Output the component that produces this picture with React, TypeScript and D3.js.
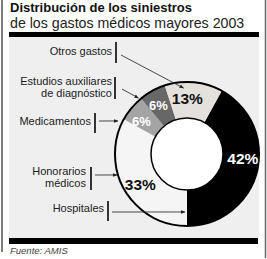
import * as d3 from "d3";

// slices, clockwise from where Hospitales begins
const categories = ["Hospitales", "Honorarios médicos", "Medicamentos", "Estudios auxiliares de diagnóstico", "Otros gastos"];
const shares = [42, 33, 6, 6, 13];
const sliceColors = ["#000000", "#f5f5f5", "#a4a4a4", "#676767", "#e4e0dc"];
const pctColors = ["#ffffff", "#111111", "#ffffff", "#ffffff", "#111111"];

const title = "Distribución de los siniestros";
const subtitle = "de los gastos médicos mayores 2003";
const source = "Fuente: AMIS";

// callout layout: text lines, right edge, baselines, bar, arrow start, target (deg, radius)
const callouts = [
  { cat: 4, lines: ["Otros gastos"], tx: 112, ty: [55], bx: 116, by: [42, 63], from: [121, 55], deg: 357, r: 66 },
  { cat: 3, lines: ["Estudios auxiliares", "de diagnóstico"], tx: 112, ty: [85, 97], bx: 115, by: [77, 99], from: [122, 89], deg: 319, r: 74 },
  { cat: 2, lines: ["Medicamentos"], tx: 91, ty: [125], bx: 95, by: [113, 133], from: [99, 121], deg: 295.6, r: 76.5 },
  { cat: 1, lines: ["Honorarios", "médicos"], tx: 86, ty: [175, 187], bx: 91, by: [167, 190], from: [95, 175], deg: 253.3, r: 73 },
  { cat: 0, lines: ["Hospitales"], tx: 104, ty: [212], bx: 108, by: [201, 221], from: [112, 212], deg: 182, r: 58 },
];
const labelNudge = [-10, -3, -4, -2, -5]; // degrees

const W = 267, H = 259;
const cx = 187, cy = 154, R = 72, r0 = 36;
const font = "'Liberation Sans', Arial, sans-serif";

const pie = d3.pie<number>().sort(null).value((d) => d)
  .startAngle(Math.PI - 0.42 * 2 * Math.PI)
  .endAngle(Math.PI - 0.42 * 2 * Math.PI + 2 * Math.PI);
const arc = d3.arc<d3.PieArcDatum<number>>().innerRadius(r0).outerRadius(R);

const polar = (deg: number, rad: number): [number, number] => {
  const a = (deg * Math.PI) / 180;
  return [cx + rad * Math.sin(a), cy - rad * Math.cos(a)];
};

export default function App() {
  const arcs = pie(shares);
  return (
    <svg width={W} height={H} style={{ position: "absolute", left: 0, top: 0, background: "#fff" }} fontFamily={font}>
      <defs>
        <marker id="ah" viewBox="0 0 10 10" refX="9" refY="5" markerWidth="5" markerHeight="5" orient="auto">
          <path d="M0,1 L10,5 L0,9 z" fill="#222" />
        </marker>
      </defs>
      <line x1={2} x2={2} y1={0} y2={252} stroke="#555" strokeWidth={1.5} />
      <line x1={265.5} x2={265.5} y1={0} y2={258} stroke="#666" strokeWidth={1.5} />
      <text x={10} y={12} fontSize={13} fontWeight="bold" fill="#111">{title}</text>
      <text x={10} y={27.7} fontSize={14.2} fill="#222">{subtitle}</text>
      <rect x={9} y={37} width={250} height={201} fill="#efefef" />
      <rect x={9} y={32} width={250} height={5} fill="#000" />
      <rect x={9} y={238} width={249} height={6} fill="#000" />
      <text x={10} y={254} fontSize={9.5} fontStyle="italic" fill="#444">{source}</text>

      <g transform={`translate(${cx},${cy})`}>
        {arcs.map((a, i) => (
          <path key={i} d={arc(a) || ""} fill={sliceColors[i]} />
        ))}
        <circle r={R} fill="none" stroke="#000" strokeWidth={2} />
        <circle r={r0} fill="#fff" stroke="#000" strokeWidth={1.5} />
      </g>

      {arcs.map((a, i) => {
        const mid = ((a.startAngle + a.endAngle) / 2) * 180 / Math.PI + labelNudge[i];
        const [x, y] = polar(mid, 56);
        return (
          <text key={i} x={x} y={y} textAnchor="middle" dominantBaseline="central"
            fontSize={shares[i] < 10 ? 13 : 15.5} fontWeight="bold" fill={pctColors[i]}>
            {shares[i]}%
          </text>
        );
      })}

      {callouts.map((c, i) => {
        const [ex, ey] = polar(c.deg, c.r);
        return (
          <g key={i}>
            {c.lines.map((l, j) => (
              <text key={j} x={c.tx} y={c.ty[j]} textAnchor="end" fontSize={11} fill="#222">{l}</text>
            ))}
            <line x1={c.bx} x2={c.bx} y1={c.by[0]} y2={c.by[1]} stroke="#333" strokeWidth={2} />
            <line x1={c.from[0]} y1={c.from[1]} x2={ex} y2={ey} stroke="#333" strokeWidth={0.9} markerEnd="url(#ah)" />
          </g>
        );
      })}
    </svg>
  );
}
